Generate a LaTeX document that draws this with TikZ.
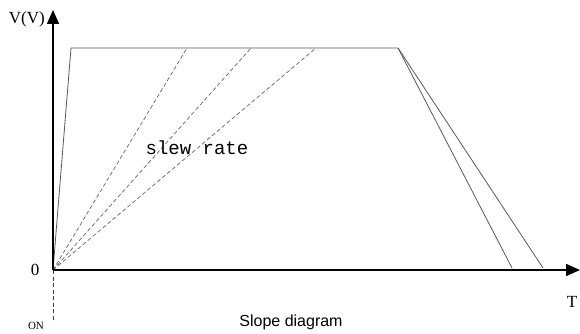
\documentclass[tikz,border=0pt]{standalone}
\usepackage{fontspec}
\setmainfont{Liberation Serif}
\newfontfamily\capfont{Liberation Sans}
\newfontfamily\monofont{Liberation Mono}
\usetikzlibrary{arrows.meta}
\begin{document}
\begin{tikzpicture}[x=1pt,y=-1pt,
  axis/.style={line width=1.6pt,-{Triangle[length=14pt,width=12pt]}},
  edge/.style={draw=black!65,line width=0.8pt},
  slope/.style={draw=black!60,line width=0.7pt,dash pattern=on 4pt off 2.5pt},
  onlink/.style={draw=blue!40!black!80,line width=0.7pt,dash pattern=on 4pt off 2.5pt},
  lbl/.style={inner sep=0pt,font=\fontsize{17}{19}\selectfont}]
\useasboundingbox[fill=white] (0,0) rectangle (580,334);
\coordinate (O) at (53,270);
\coordinate (Ytop) at (53,10);
\coordinate (Xend) at (580,270);
\coordinate (A) at (71,48);
\coordinate (B) at (398,48);
\coordinate (C1) at (512,268);
\coordinate (C2) at (543,268);
\coordinate (D1) at (187,48);
\coordinate (D2) at (251,48);
\coordinate (D3) at (316,48);
\coordinate (ONend) at (53,322);
% trapezoid
\draw[edge] (O) -- (A) -- (B) -- (C1);
\draw[edge] (B) -- (C2);
% slopes
\draw[slope] (O) -- (D1);
\draw[slope] (O) -- (D2);
\draw[slope] (O) -- (D3);
\draw[onlink] (O) -- (ONend);
% axes
\draw[axis] (O) -- (Ytop);
\draw[axis] (O) -- (Xend);
% labels
\node[lbl,anchor=east] (vlab) at (45,19) {V(V)};
\node[lbl] (zero) at (35,270) {0};
\node[inner sep=0pt,font=\fontsize{11}{12}\selectfont] (on) at (36,326) {ON};
\node[lbl] (tlab) at (572,302) {T};
\node[inner sep=0pt,font=\monofont\fontsize{19}{21}\selectfont] (slew) at (197,148) {slew rate};
\node[inner sep=0pt,font=\capfont\fontsize{16}{18}\selectfont] (cap) at (291,322) {Slope diagram};
\end{tikzpicture}
\end{document}
